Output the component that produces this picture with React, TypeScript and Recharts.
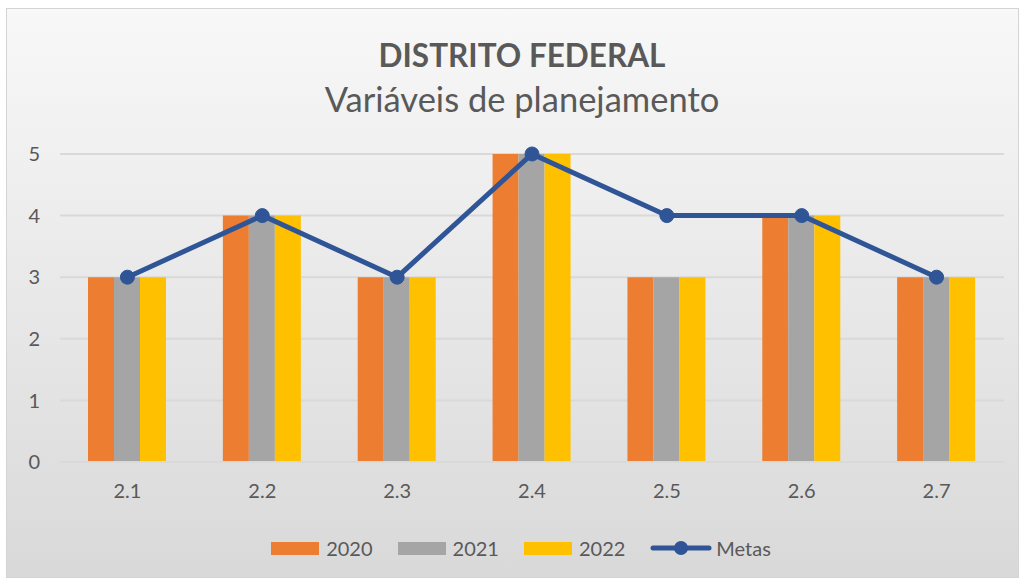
import { Bar, CartesianGrid, ComposedChart, Line, XAxis, YAxis } from "recharts";

const categories = ["2.1", "2.2", "2.3", "2.4", "2.5", "2.6", "2.7"];
const values2020 = [3, 4, 3, 5, 3, 4, 3];
const values2021 = [3, 4, 3, 5, 3, 4, 3];
const values2022 = [3, 4, 3, 5, 3, 4, 3];
const metas = [3, 4, 3, 5, 4, 4, 3];
const yTicks = [0, 1, 2, 3, 4, 5];

const series = [
  { key: "y2020", name: "2020", color: "#ED7D31", type: "bar" },
  { key: "y2021", name: "2021", color: "#A5A5A5", type: "bar" },
  { key: "y2022", name: "2022", color: "#FFC000", type: "bar" },
  { key: "metas", name: "Metas", color: "#2F5597", type: "line" },
];

const data = categories.map((c, i) => ({
  cat: c,
  y2020: values2020[i],
  y2021: values2021[i],
  y2022: values2022[i],
  metas: metas[i],
}));

const FONT = "Lato, 'Open Sans', sans-serif";
const TEXT = "#595959";

// legend drawn as plain html so it doesn't eat into the plot height
const LegendBox = () => (
  <div style={{ display: "flex", justifyContent: "center", alignItems: "center", fontFamily: FONT, fontSize: 20, color: TEXT }}>
    {series.map((s) => (
      <div key={s.key} style={{ display: "flex", alignItems: "center", marginRight: s.type === "bar" ? 25 : 0 }}>
        {s.type === "bar" ? (
          <span style={{ display: "inline-block", width: 48, height: 13, background: s.color, marginRight: 7 }} />
        ) : (
          <svg width={62} height={16} style={{ marginRight: 4 }}>
            <line x1={3} y1={8} x2={59} y2={8} stroke={s.color} strokeWidth={5} strokeLinecap="round" />
            <circle cx={31} cy={8} r={7} fill={s.color} />
          </svg>
        )}
        <span>{s.name}</span>
      </div>
    ))}
  </div>
);

export default function App() {
  return (
    <div style={{ position: "absolute", left: 0, top: 0, width: 1022, height: 579, background: "#fff" }}>
      <div
        style={{
          position: "absolute",
          left: 6,
          top: 8,
          width: 1011,
          height: 568,
          border: "1px solid #d4d4d4",
          background: "linear-gradient(#f8f8f8, #d9d9d9)",
        }}
      />
      <div style={{ position: "absolute", left: 0, top: 34, width: 1044, textAlign: "center", fontFamily: FONT, color: TEXT }}>
        <div style={{ fontSize: 31.5, fontWeight: 700, lineHeight: "42px" }}>DISTRITO FEDERAL</div>
        <div style={{ fontSize: 34.5, lineHeight: "46px", marginTop: 0 }}>Variáveis de planejamento</div>
      </div>
      <div style={{ position: "absolute", left: 0, top: 0 }}>
        <ComposedChart
          width={1022}
          height={579}
          data={data}
          margin={{ top: 154, right: 18, bottom: 87, left: 20 }}
          barGap={0}
          barCategoryGap={28}
        >
          <CartesianGrid vertical={false} stroke="#d9d9d9" strokeWidth={2} />
          <XAxis
            dataKey="cat"
            height={30}
            tickLine={false}
            axisLine={{ stroke: "#d9d9d9", strokeWidth: 2 }}
            tick={{ fill: TEXT, fontSize: 20, fontFamily: FONT }}
            tickMargin={16}
          />
          <YAxis
            width={40}
            domain={[0, 5]}
            ticks={yTicks}
            tickLine={false}
            axisLine={false}
            tick={{ fill: TEXT, fontSize: 20, fontFamily: FONT }}
            tickMargin={14}
          />
          {series
            .filter((s) => s.type === "bar")
            .map((s) => (
              <Bar key={s.key} dataKey={s.key} name={s.name} fill={s.color} isAnimationActive={false} />
            ))}
          <Line
            dataKey="metas"
            name="Metas"
            stroke="#2F5597"
            strokeWidth={5}
            dot={{ r: 7, fill: "#2F5597", stroke: "#2F5597", strokeWidth: 1 }}
            activeDot={false}
            isAnimationActive={false}
          />
        </ComposedChart>
      </div>
      <div style={{ position: "absolute", left: 10, top: 536, width: 1022 }}>
        <LegendBox />
      </div>
    </div>
  );
}
